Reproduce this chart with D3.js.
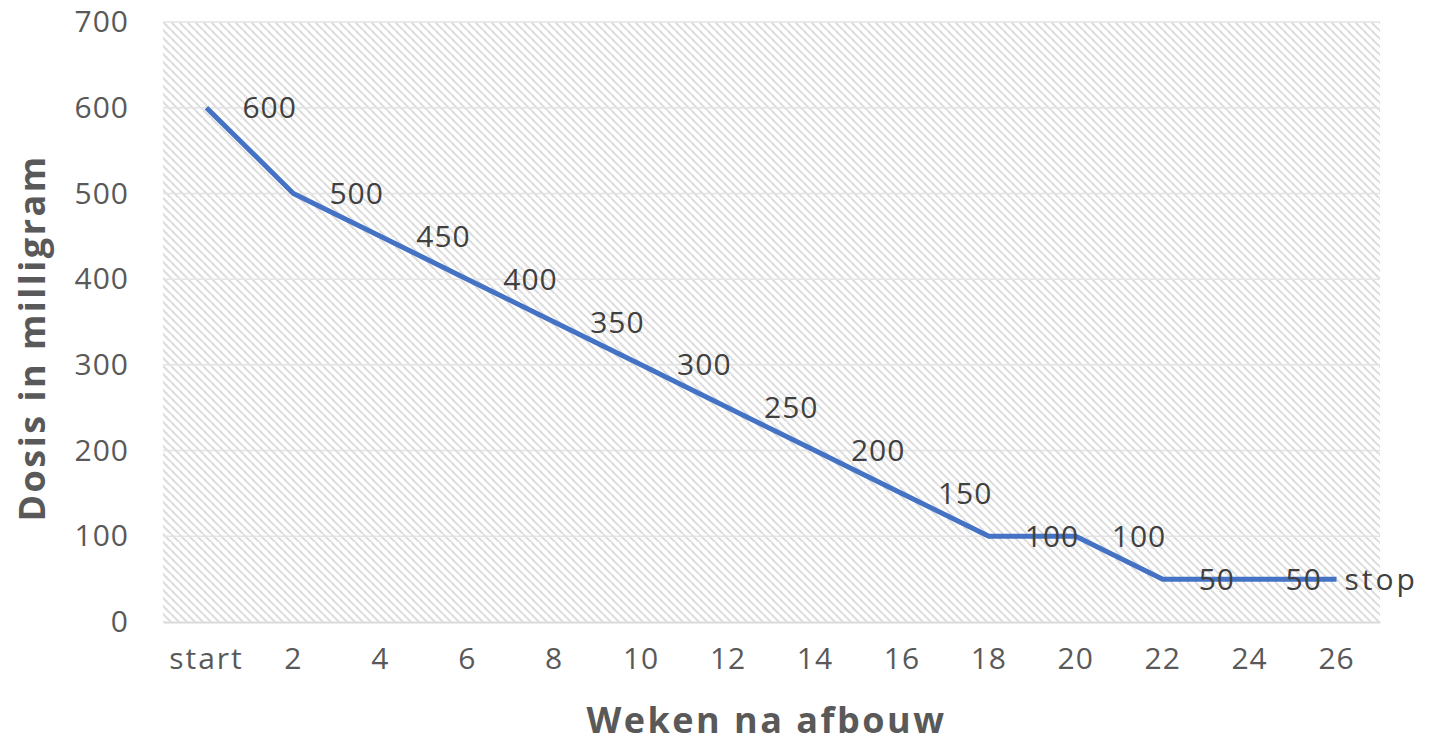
<!DOCTYPE html>
<html>
<head>
<meta charset="utf-8">
<script src="https://cdn.jsdelivr.net/npm/d3@7"></script>
<style>
  body { margin: 0; background: #fff; }
  text { font-family: "Open Sans", sans-serif; }
</style>
</head>
<body>
<div id="chart"></div>
<script>
// chart data
const weeks = ["start", "2", "4", "6", "8", "10", "12", "14", "16", "18", "20", "22", "24", "26"];
const dose = [600, 500, 450, 400, 350, 300, 250, 200, 150, 100, 100, 50, 50, 50];
const pointLabels = ["600", "500", "450", "400", "350", "300", "250", "200", "150", "100", "100", "50", "50", "stop"];
const yTicks = [0, 100, 200, 300, 400, 500, 600, 700];

const width = 1432, height = 743;
const margin = {top: 22, right: 52, bottom: 121, left: 163};
const innerW = width - margin.left - margin.right;
const innerH = height - margin.top - margin.bottom;

const svg = d3.select("#chart").append("svg")
	.attr("width", width)
	.attr("height", height);

// hatch pattern for plot background
const pat = svg.append("defs").append("pattern")
	.attr("id", "hatch")
	.attr("patternUnits", "userSpaceOnUse")
	.attr("width", 8)
	.attr("height", 8);
pat.append("rect").attr("width", 8).attr("height", 8).attr("fill", "#fff");
pat.append("path")
	.attr("d", "M-2,-2 L10,10 M-6,2 L2,10 M6,-6 L14,2")
	.attr("stroke", "#dddddd")
	.attr("stroke-width", 2);

const g = svg.append("g")
	.attr("transform", `translate(${margin.left},${margin.top})`);

const x = d3.scaleBand().domain(weeks).range([0, innerW]);
const y = d3.scaleLinear().domain([0, 700]).range([innerH, 0]);

g.append("rect")
	.attr("width", innerW)
	.attr("height", innerH)
	.attr("fill", "url(#hatch)");

// gridlines
g.append("g")
	.selectAll("line")
	.data(yTicks.filter(d => d > 0))
	.enter()
	.append("line")
	.attr("x1", 0).attr("x2", innerW)
	.attr("y1", d => y(d)).attr("y2", d => y(d))
	.attr("stroke", "#e3e3e3")
	.attr("stroke-width", 1.5);

// x axis
const axisX = g.append("g")
	.attr("transform", `translate(0,${innerH})`)
	.call(d3.axisBottom(x).tickSize(0).tickPadding(26));
axisX.select(".domain").attr("stroke", "#d9d9d9").attr("stroke-width", 2);
axisX.selectAll("text")
	.attr("font-size", 30)
	.attr("fill", "#595959")
	.style("font-family", "'Open Sans', sans-serif")
	.attr("letter-spacing", d => isNaN(+d) ? 2 : 1);

// y axis
const axisY = g.append("g")
	.call(d3.axisLeft(y).tickValues(yTicks).tickSize(0).tickPadding(34));
axisY.select(".domain").remove();
axisY.selectAll("text")
	.attr("font-size", 30)
	.attr("fill", "#595959")
	.attr("letter-spacing", 1)
	.style("font-family", "'Open Sans', sans-serif");

// line
const line = d3.line()
	.x((d, i) => x(weeks[i]) + x.bandwidth() / 2)
	.y(d => y(d));

g.append("path")
	.datum(dose)
	.attr("fill", "none")
	.attr("stroke", "#4472C4")
	.attr("stroke-width", 5)
	.attr("stroke-linejoin", "round")
	.attr("d", line);

// data labels
g.append("g")
	.selectAll("text")
	.data(dose)
	.enter()
	.append("text")
	.attr("x", (d, i) => x(weeks[i]) + x.bandwidth() / 2 + (i === dose.length - 1 ? 8 : 36))
	.attr("y", d => y(d))
	.attr("dy", "0.35em")
	.attr("font-size", 30)
	.attr("fill", "#404040")
	.attr("letter-spacing", (d, i) => i === dose.length - 1 ? 3 : 1)
	.text((d, i) => pointLabels[i]);

// axis titles
svg.append("text")
	.attr("x", margin.left + innerW / 2 - 5)
	.attr("y", 733)
	.attr("text-anchor", "middle")
	.attr("font-size", 36)
	.attr("font-weight", "bold")
	.attr("fill", "#595959")
	.attr("letter-spacing", 2.5)
	.text("Weken na afbouw");

svg.append("text")
	.attr("transform", `translate(45,338) rotate(-90)`)
	.attr("text-anchor", "middle")
	.attr("font-size", 36)
	.attr("font-weight", "bold")
	.attr("fill", "#595959")
	.attr("letter-spacing", 2.5)
	.text("Dosis in milligram");
</script>
</body>
</html>
